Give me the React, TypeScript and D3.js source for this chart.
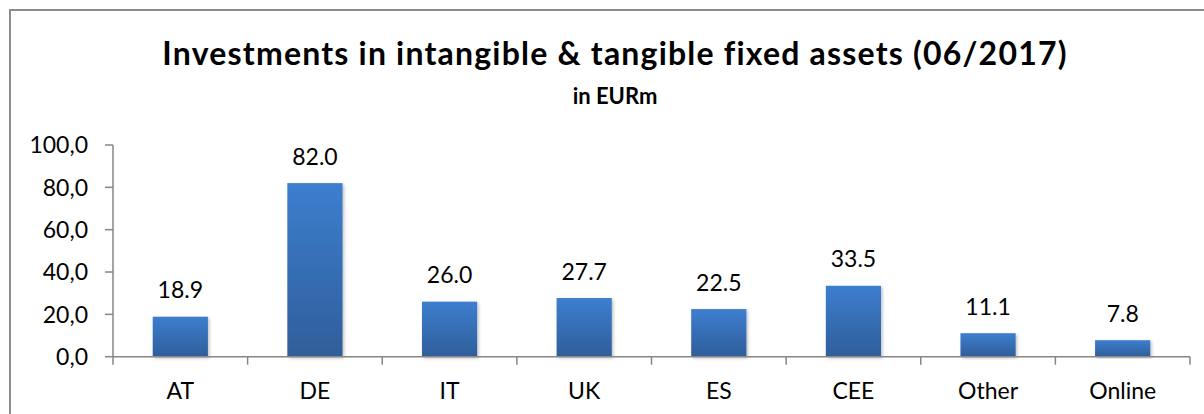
import React from "react";
import * as d3 from "d3";

const categories = ["AT", "DE", "IT", "UK", "ES", "CEE", "Other", "Online"];
const values = [18.9, 82.0, 26.0, 27.7, 22.5, 33.5, 11.1, 7.8];
const yTicks = [0, 20, 40, 60, 80, 100];
const title = "Investments in intangible & tangible fixed assets (06/2017)";
const subtitle = "in EURm";

const W = 1204;
const H = 414;
const FONT = "Lato, 'Open Sans', sans-serif";

export default function App() {
  const x0 = 113;
  const x1 = 1190;
  const yTop = 145;
  const yBot = 356.7;
  const x = d3.scaleBand<string>().domain(categories).range([x0, x1]).paddingInner(0.59).paddingOuter(0.295);
  const xb = d3.scaleBand<string>().domain(categories).range([x0, x1]);
  const y = d3.scaleLinear().domain([0, 100]).range([yBot, yTop]);
  const fmt = (v: number) => v.toFixed(1).replace(".", ",");

  return (
    <svg width={W} height={H} style={{ position: "absolute", left: 0, top: 0, display: "block" }}>
      <defs>
        <linearGradient id="barGrad" x1="0" y1="0" x2="0" y2="1">
          <stop offset="0%" stopColor="#3d7ecf" />
          <stop offset="100%" stopColor="#2f5e9a" />
        </linearGradient>
        <filter id="shadow" x="-20%" y="-10%" width="140%" height="120%">
          <feDropShadow dx="1.5" dy="1.5" stdDeviation="1.5" floodColor="#000" floodOpacity="0.25" />
        </filter>
      </defs>
      <rect x={0} y={0} width={W} height={H} fill="#fff" />
      <rect x={10} y={10} width={W} height={H} fill="#fff" stroke="#8c8c8c" strokeWidth={2} />
      <text x={615} y={65} textAnchor="middle" fontFamily={FONT} fontWeight="bold" fontSize={32} letterSpacing={1.2} fill="#000">
        {title}
      </text>
      <text x={615} y={104} textAnchor="middle" fontFamily={FONT} fontWeight="bold" fontSize={22} fill="#000">
        {subtitle}
      </text>
      {/* y axis */}
      <line x1={x0} x2={x0} y1={yTop} y2={yBot} stroke="#868686" strokeWidth={1.5} />
      {yTicks.map((t) => (
        <g key={t}>
          <line x1={x0 - 8} x2={x0} y1={y(t)} y2={y(t)} stroke="#868686" strokeWidth={1.5} />
          <text x={88} y={y(t)} dy="0.36em" textAnchor="end" fontFamily={FONT} fontSize={23} fill="#000">
            {fmt(t)}
          </text>
        </g>
      ))}
      {/* bars */}
      {categories.map((c, i) => (
        <rect
          key={c}
          x={x(c)}
          y={y(values[i])}
          width={x.bandwidth()}
          height={yBot - y(values[i])}
          fill="url(#barGrad)"
          filter="url(#shadow)"
        />
      ))}
      {/* x axis */}
      <line x1={x0} x2={x1} y1={yBot} y2={yBot} stroke="#868686" strokeWidth={1.5} />
      {categories.map((c) => (
        <line key={c} x1={xb(c)! + xb.bandwidth()} x2={xb(c)! + xb.bandwidth()} y1={yBot} y2={yBot + 8} stroke="#868686" strokeWidth={1.5} />
      ))}
      <line x1={x0} x2={x0} y1={yBot} y2={yBot + 8} stroke="#868686" strokeWidth={1.5} />
      {categories.map((c) => (
        <text key={c} x={xb(c)! + xb.bandwidth() / 2} y={399} textAnchor="middle" fontFamily={FONT} fontSize={23} fill="#000">
          {c}
        </text>
      ))}
      {categories.map((c, i) => (
        <text key={c} x={xb(c)! + xb.bandwidth() / 2} y={y(values[i]) - 18.5} textAnchor="middle" fontFamily={FONT} fontSize={23} fill="#000">
          {values[i].toFixed(1)}
        </text>
      ))}
    </svg>
  );
}
